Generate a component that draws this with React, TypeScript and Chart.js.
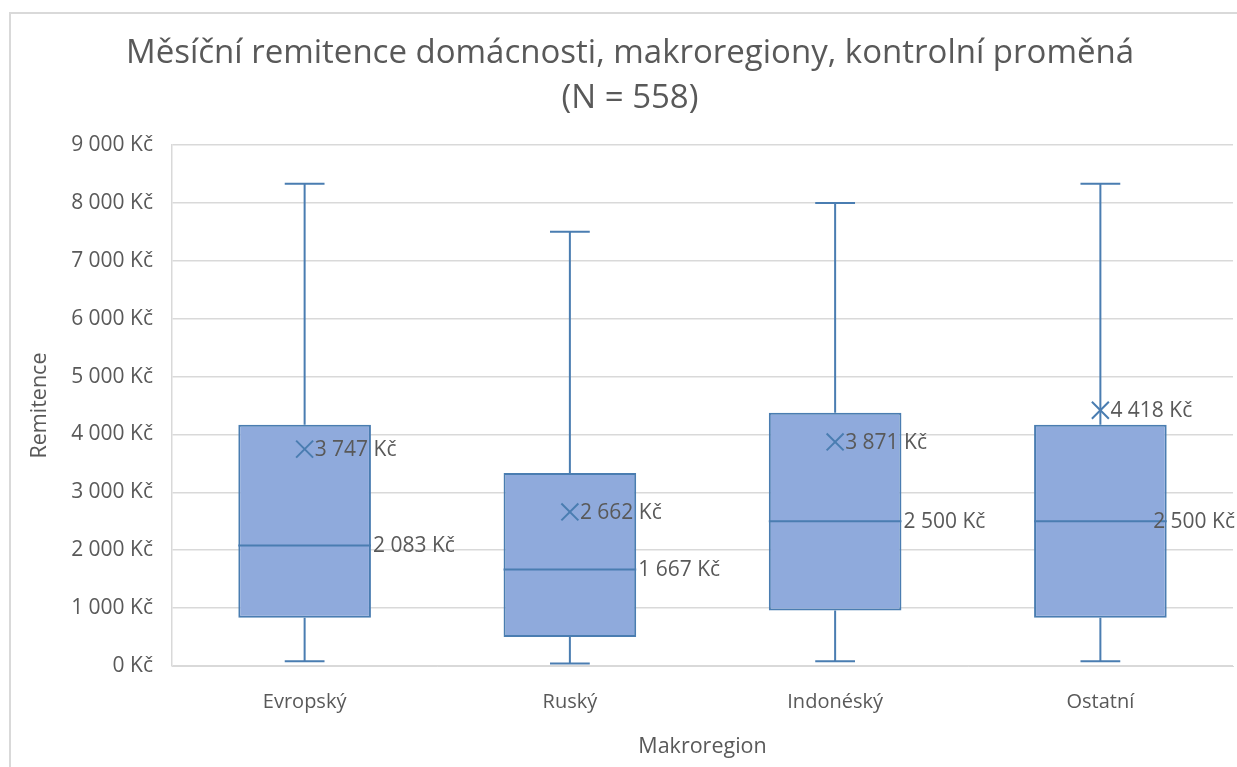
import React, { useEffect, useRef } from "react";
import { Chart, registerables } from "chart.js";

Chart.register(...registerables);

const categories = ["Evropský", "Ruský", "Indonéský", "Ostatní"];
const minValues = [83, 42, 83, 83];
const q1Values = [833, 500, 958, 833];
const medianValues = [2083, 1667, 2500, 2500];
const q3Values = [4167, 3333, 4375, 4167];
const maxValues = [8333, 7500, 8000, 8333];
const meanValues = [3747, 2662, 3871, 4418];

const titleLines = ["Měsíční remitence domácnosti, makroregiony, kontrolní proměná", "(N = 558)"];
const yTitle = "Remitence";
const xTitle = "Makroregion";

const fmt = (v: number) => {
  const s = Math.round(v).toString().replace(/\B(?=(\d{3})+(?!\d))/g, " ");
  return s + " Kč";
};

const FONT = "'Open Sans', sans-serif";
const TEXT = "#595959";
const BOX_FILL = "#8FAADC";
const BOX_LINE = "#4A7DB1";

const W = 1237;
const H = 767;

const boxPlugin = {
  id: "boxExtras",
  beforeDraw(chart: any) {
    const ctx = chart.ctx;
    ctx.save();
    ctx.strokeStyle = "#D9D9D9";
    ctx.lineWidth = 2;
    ctx.strokeRect(10, 13, chart.width + 10, chart.height + 10);
    ctx.restore();
  },
  afterDatasetsDraw(chart: any) {
    const ctx = chart.ctx;
    const y = chart.scales.y;
    const meta = chart.getDatasetMeta(0);
    ctx.save();
    ctx.strokeStyle = BOX_LINE;
    ctx.lineWidth = 2;
    meta.data.forEach((bar: any, i: number) => {
      const x = bar.x;
      const w = bar.width;
      const cap = w * 0.3;
      const yMax = y.getPixelForValue(maxValues[i]);
      const yQ3 = y.getPixelForValue(q3Values[i]);
      const yQ1 = y.getPixelForValue(q1Values[i]);
      const yMin = y.getPixelForValue(minValues[i]);
      const yMed = y.getPixelForValue(medianValues[i]);
      ctx.beginPath();
      ctx.moveTo(x, yQ3);
      ctx.lineTo(x, yMax);
      ctx.moveTo(x - cap / 2, yMax);
      ctx.lineTo(x + cap / 2, yMax);
      ctx.moveTo(x, yQ1);
      ctx.lineTo(x, yMin);
      ctx.moveTo(x - cap / 2, yMin);
      ctx.lineTo(x + cap / 2, yMin);
      ctx.moveTo(x - w / 2, yMed);
      ctx.lineTo(x + w / 2, yMed);
      ctx.stroke();
    });
    ctx.restore();
  },
  afterDraw(chart: any) {
    const ctx = chart.ctx;
    const y = chart.scales.y;
    const meta = chart.getDatasetMeta(0);
    ctx.save();
    ctx.font = "21px " + FONT;
    ctx.fillStyle = TEXT;
    ctx.textBaseline = "middle";
    ctx.textAlign = "left";
    meta.data.forEach((bar: any, i: number) => {
      const x = bar.x;
      const w = bar.width;
      const meanTxt = fmt(meanValues[i]);
      ctx.fillText(meanTxt, x + 10, y.getPixelForValue(meanValues[i]) + 1);
      const medTxt = fmt(medianValues[i]);
      let mx = x + w / 2 + 2;
      const tw = ctx.measureText(medTxt).width;
      if (mx + tw > chart.width - 2) mx = chart.width - 2 - tw;
      ctx.fillText(medTxt, mx, y.getPixelForValue(medianValues[i]) + 1);
    });
    ctx.restore();
  },
};

export default function App() {
  const ref = useRef<HTMLCanvasElement | null>(null);
  useEffect(() => {
    if (!ref.current) return;
    const chart = new Chart(ref.current, {
      type: "bar",
      data: {
        labels: categories,
        datasets: [
          {
            type: "bar",
            data: categories.map((_, i) => [q1Values[i], q3Values[i]]) as any,
            backgroundColor: BOX_FILL,
            borderColor: BOX_LINE,
            borderWidth: 2,
            borderSkipped: false,
            barPercentage: 0.5,
            categoryPercentage: 1,
            order: 2,
          },
          {
            type: "line",
            data: meanValues as any,
            showLine: false,
            pointStyle: "crossRot",
            pointRadius: 12,
            pointBorderColor: BOX_LINE,
            pointBorderWidth: 2,
            borderColor: BOX_LINE,
            clip: false,
            order: 1,
          } as any,
        ],
      },
      options: {
        animation: false,
        responsive: false,
        maintainAspectRatio: false,
        layout: { autoPadding: false, padding: { left: 27, right: 4, top: 0, bottom: 0 } },
        plugins: {
          legend: { display: false },
          tooltip: { enabled: false },
          title: {
            display: true,
            text: titleLines,
            color: TEXT,
            font: { family: FONT, size: 33, weight: "normal", lineHeight: 1.364 },
            padding: { top: 31, bottom: 24 },
          },
        },
        scales: {
          x: {
            grid: { display: false, drawTicks: false },
            border: { display: true, color: "#D9D9D9", width: 1 },
            ticks: { color: TEXT, font: { family: FONT, size: 20 }, padding: 24 },
            title: {
              display: true,
              text: xTitle,
              color: TEXT,
              font: { family: FONT, size: 21.5 },
              padding: { top: 0, bottom: 7 },
            },
            afterFit: (s: any) => {
              s.height = 101;
              s.paddingLeft = 0;
              s.paddingRight = 0;
            },
          },
          y: {
            min: 0,
            max: 9000,
            ticks: {
              stepSize: 1000,
              color: TEXT,
              font: { family: FONT, size: 21 },
              padding: 19,
              callback: (v: any) => fmt(Number(v)),
            },
            grid: { color: "#D9D9D9", lineWidth: 1.5, drawTicks: false },
            border: { display: true, color: "#D9D9D9", width: 1.5 },
            title: {
              display: true,
              text: yTitle,
              color: TEXT,
              font: { family: FONT, size: 21.5 },
              padding: { top: 0, bottom: 0 },
            },
            afterFit: (s: any) => {
              s.width = 145;
            },
          },
        },
      },
      plugins: [boxPlugin],
    });
    return () => chart.destroy();
  }, []);
  return (
    <div style={{ position: "fixed", left: 0, top: 0, width: W, height: H, overflow: "hidden" }}>
      <canvas ref={ref} width={W} height={H} style={{ display: "block" }} />
    </div>
  );
}
